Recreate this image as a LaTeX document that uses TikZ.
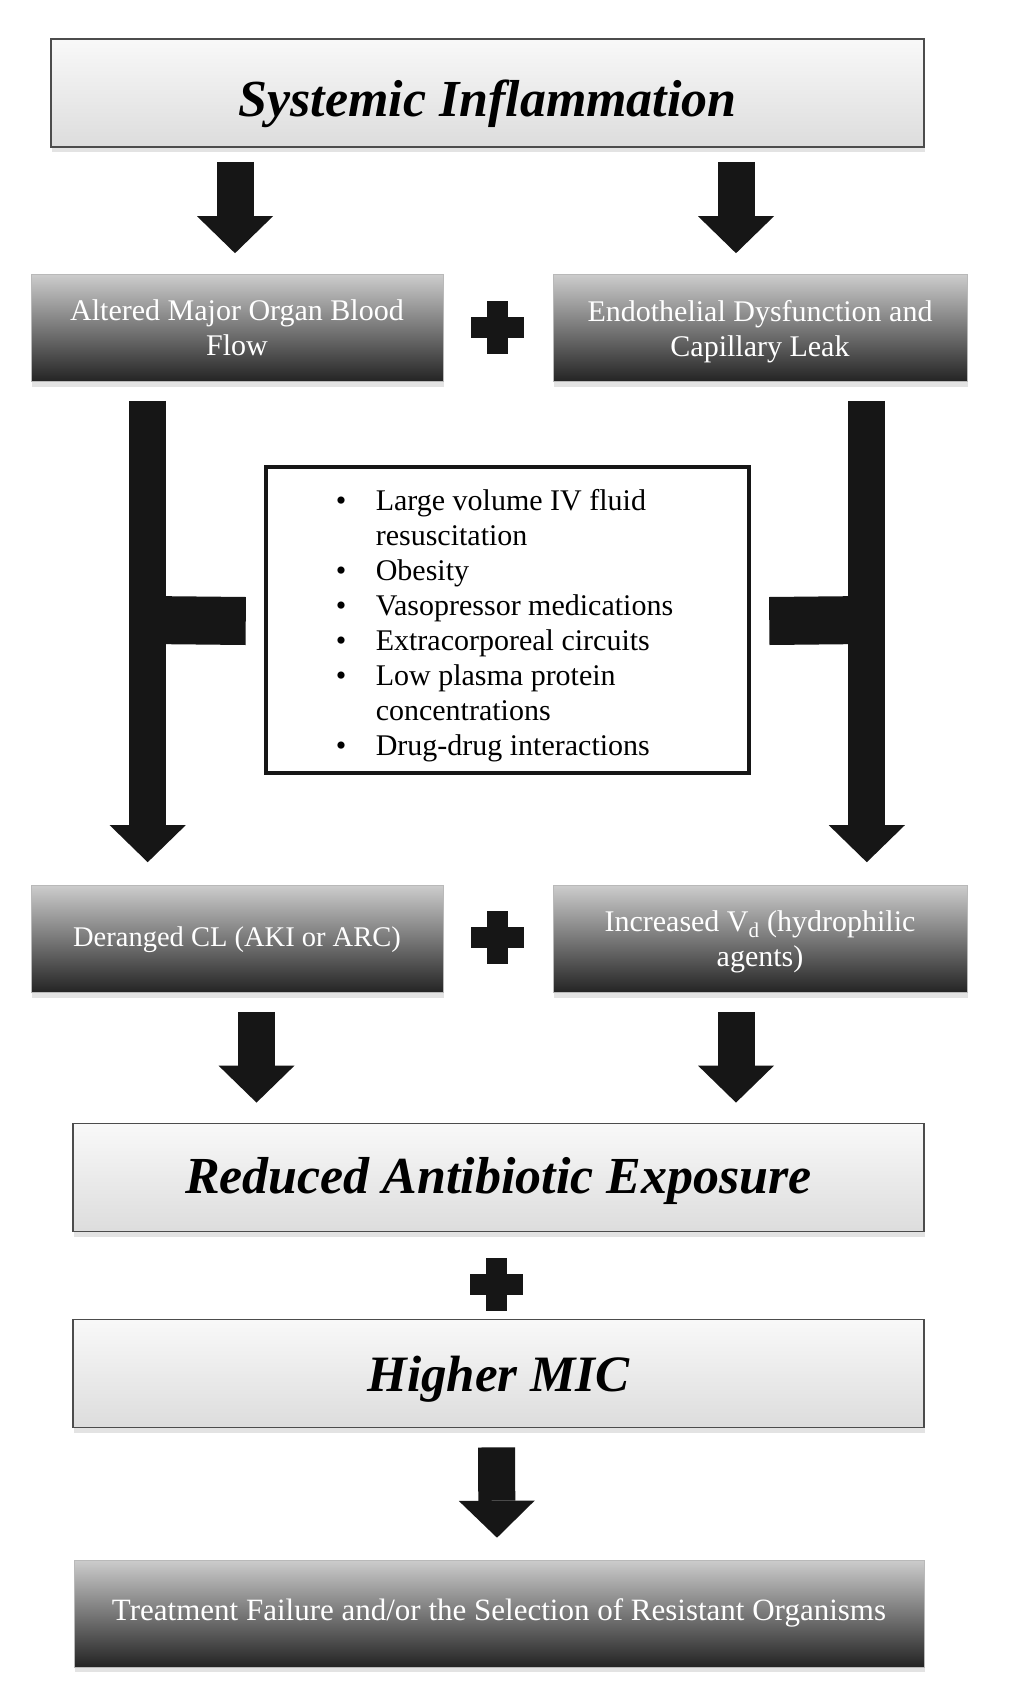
\documentclass[tikz,border=0pt]{standalone}
\usepackage{fontspec}
\setmainfont{Liberation Serif}
\usepackage{xcolor}
\usetikzlibrary{positioning, arrows.meta, shadows, calc}
\definecolor{blk}{HTML}{161616}

\begin{document}
\begin{tikzpicture}[
    x=1pt, y=-1pt,
    lightbox/.style={draw=black!70, line width=1.8pt, top color=gray!5, bottom color=gray!27, minimum height=108pt, align=center, font=\fontsize{52}{58}\selectfont\bfseries\itshape, drop shadow={shadow xshift=1pt, shadow yshift=-5pt, opacity=0.22}},
    darkbox/.style={draw=gray!55, line width=0.6pt, top color=black!20, middle color=black!50, bottom color=black!86, text=white, minimum width=412pt, minimum height=107pt, align=center, font=\fontsize{30}{35}\selectfont, drop shadow={shadow xshift=1pt, shadow yshift=-5pt, opacity=0.22}},
    oneline/.style={execute at begin node=\strut, execute at end node=\strut},
    twoline/.style={text depth=0pt},
    fatarrow/.style={draw=blk, line width=37pt, -{Triangle[length=37pt, width=76pt, line width=0pt]}},
    tbar/.style={draw=blk, line width=48pt},
    listbox/.style={draw=blk, line width=4.5pt, fill=white, minimum width=483pt, minimum height=306pt, inner sep=0pt, font=\fontsize{30}{35}\selectfont},
    plussign/.pic={\fill[blk] (-26.5,-10.5) rectangle (26.5,10.5); \fill[blk] (-10.5,-26.5) rectangle (10.5,26.5);}
]
% page and margins
\fill[white] (0,0) rectangle (1024,1707);
% top cause
\node[lightbox, minimum width=873pt, text height=52pt, text depth=5pt] (sys) at (487.5,93) {Systemic Inflammation};
% first pair
\node[darkbox, twoline] (alt) at (237,328) {Altered Major Organ Blood\\Flow};
\node[darkbox, twoline, minimum width=414pt] (endo) at (760,328) {Endothelial Dysfunction and\\Capillary Leak};
\pic at ($(alt.east)!0.5!(endo.west)+(-1,-1)$) {plussign};
\draw[fatarrow] ($(sys.south -| alt.north)+(-2,14)$) -- ($(alt.north)+(-2,-21)$);
\draw[fatarrow] ($(sys.south -| endo.north)+(-24,14)$) -- ($(endo.north)+(-24,-21)$);
% modifying factors in the middle
\node[listbox, text height=152.5pt, text depth=127.5pt] (lst) at (507.5,620) {\hspace*{-6pt}\begin{tabular}{@{}p{40pt}@{}l@{}}
\textbullet & Large volume IV fluid\\
 & resuscitation\\
\textbullet & Obesity\\
\textbullet & Vasopressor medications\\
\textbullet & Extracorporeal circuits\\
\textbullet & Low plasma protein\\
 & concentrations\\
\textbullet & Drug-drug interactions
\end{tabular}};
% second pair
\node[darkbox, oneline, font=\fontsize{28.5}{35}\selectfont] (der) at (237,939) {Deranged CL (AKI or ARC)};
\node[darkbox, twoline, minimum width=414pt] (inc) at (760,939) {Increased V\textsubscript{d} (hydrophilic\\agents)};
\pic at ($(der.east)!0.5!(inc.west)+(-1,-2)$) {plussign};
% long arrows with side bars towards the list
\draw[fatarrow] ($(alt.south west)+(117,19)$) coordinate (lshaft) -- ($(der.north west)+(117,-23)$);
\draw[fatarrow] ($(endo.south east)+(-100.5,19)$) coordinate (rshaft) -- ($(inc.north east)+(-100.5,-23)$);
\draw[tbar] ($(lst.west)+(-18,1)$) -- (lshaft |- lst.west);
\draw[tbar] ($(lst.east)+(18,1)$) -- (rshaft |- lst.east);
% outcome chain
\node[lightbox, minimum width=851pt, text height=42pt, text depth=10pt] (red) at (498.5,1177.5) {Reduced Antibiotic Exposure};
\draw[fatarrow] ($(der.south)+(19.5,19)$) -- ($(red.north -| der.south)+(19.5,-20)$);
\draw[fatarrow] ($(inc.south)+(-24,19)$) -- ($(red.north -| inc.south)+(-24,-20)$);
\node[lightbox, minimum width=851pt, text height=40pt, text depth=5pt, font=\fontsize{51}{58}\selectfont\bfseries\itshape] (mic) at (498.5,1373.5) {Higher MIC};
\pic at ($(red.south)!0.5!(mic.north)+(-2,9)$) {plussign};
\node[darkbox, oneline, minimum width=850pt, font=\fontsize{31}{35}\selectfont] (fail) at (499,1613.5) {Treatment Failure and/or the Selection of Resistant Organisms};
\draw[fatarrow] ($(mic.south)+(-2,19)$) -- ($(fail.north)+(-2,-22)$);
\end{tikzpicture}
\end{document}
